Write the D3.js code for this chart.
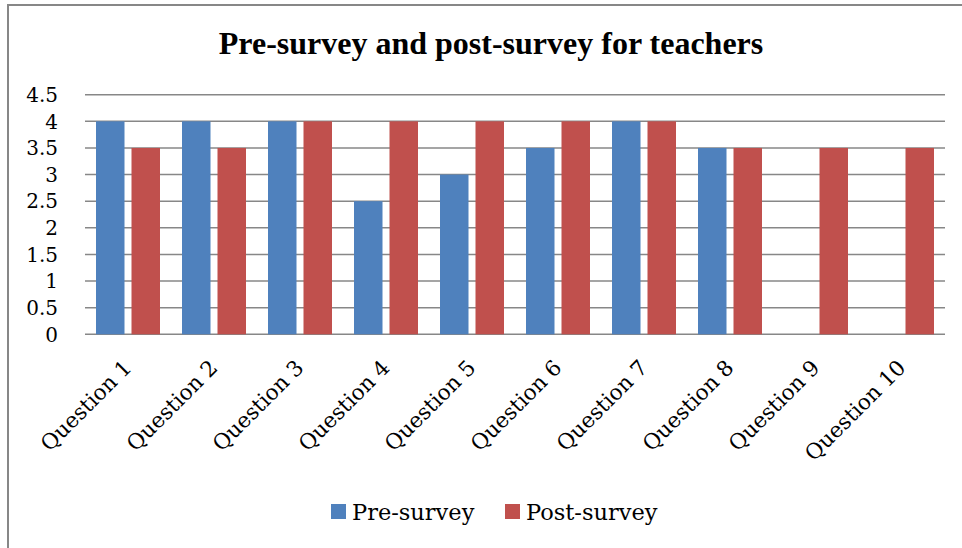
<!DOCTYPE html>
<html lang="en">

<head>
    <meta charset="UTF-8">
    <title>Pre-survey and post-survey for teachers</title>
    <style>
        body {
            margin: 0;
            background: white;
        }

        #svg {
            display: block;
            background: white;
        }
    </style>
    <script src="https://d3js.org/d3.v7.min.js"></script>
</head>

<body>
    <svg id="svg"></svg>
    <script>
        // chart data
        const questions = ['Question 1', 'Question 2', 'Question 3', 'Question 4', 'Question 5',
            'Question 6', 'Question 7', 'Question 8', 'Question 9', 'Question 10'];
        const preSurvey = [4, 4, 4, 2.5, 3, 3.5, 4, 3.5, null, null];
        const postSurvey = [3.5, 3.5, 4, 4, 4, 4, 4, 3.5, 3.5, 3.5];
        const yTicks = [0, 0.5, 1, 1.5, 2, 2.5, 3, 3.5, 4, 4.5];
        const seriesNames = ['Pre-survey', 'Post-survey'];
        const seriesColors = ['#4f81bd', '#c0504d'];

        const width = 962;
        const height = 548;
        const plot = { left: 85, right: 945, top: 94.7, bottom: 334.3 };

        const svg = d3.select('#svg')
            .attr('width', width)
            .attr('height', height);

        // outer frame (top and left edges visible)
        svg.append('line')
            .attr('x1', 8).attr('x2', width)
            .attr('y1', 5).attr('y2', 5)
            .attr('stroke', '#878787')
            .attr('stroke-width', 2);
        svg.append('line')
            .attr('x1', 8).attr('x2', 8)
            .attr('y1', 4).attr('y2', height)
            .attr('stroke', '#878787')
            .attr('stroke-width', 2);

        svg.append('text')
            .attr('x', 491)
            .attr('y', 54)
            .attr('text-anchor', 'middle')
            .attr('font-family', '"Liberation Serif", "Times New Roman", serif')
            .attr('font-weight', 'bold')
            .attr('font-size', 32)
            .text('Pre-survey and post-survey for teachers');

        const x = d3.scaleBand()
            .domain(questions)
            .range([plot.left, plot.right]);

        const y = d3.scaleLinear()
            .domain([0, 4.5])
            .range([plot.bottom, plot.top]);

        // gridlines
        svg.append('g')
            .selectAll('line')
            .data(yTicks)
            .join('line')
            .attr('x1', plot.left)
            .attr('x2', plot.right)
            .attr('y1', d => y(d))
            .attr('y2', d => y(d))
            .attr('stroke', '#878787')
            .attr('stroke-width', 1.6);

        // y tick labels
        svg.append('g')
            .selectAll('text')
            .data(yTicks)
            .join('text')
            .attr('x', 58)
            .attr('y', d => y(d))
            .attr('dy', '0.36em')
            .attr('text-anchor', 'end')
            .attr('font-family', '"DejaVu Serif", serif')
            .attr('font-size', 20)
            .attr('fill', '#000')
            .text(d => d);

        // bars
        const barW = 28.5;
        const gap = 7;
        const series = [preSurvey, postSurvey];
        series.forEach((vals, s) => {
            svg.append('g')
                .selectAll('rect')
                .data(vals.map((v, i) => ({ q: questions[i], v: v })).filter(d => d.v != null))
                .join('rect')
                .attr('x', d => x(d.q) + x.bandwidth() / 2 - barW - gap / 2 + s * (barW + gap))
                .attr('y', d => y(d.v))
                .attr('width', barW)
                .attr('height', d => y(0) - y(d.v))
                .attr('fill', seriesColors[s]);
        });

        // category labels, rotated
        svg.append('g')
            .selectAll('text')
            .data(questions)
            .join('text')
            .attr('transform', d => 'translate(' + (x(d) + x.bandwidth() / 2 + 5) + ',' + 369 + ') rotate(-45)')
            .attr('text-anchor', 'end')
            .attr('font-family', '"DejaVu Serif", serif')
            .attr('font-size', 21.5)
            .attr('fill', '#000')
            .text(d => d);

        // legend
        const legendX = [331, 505];
        const legend = svg.append('g')
            .selectAll('g')
            .data(seriesNames)
            .join('g')
            .attr('transform', (d, i) => 'translate(' + legendX[i] + ',504)');
        legend.append('rect')
            .attr('width', 15)
            .attr('height', 15)
            .attr('fill', (d, i) => seriesColors[i]);
        legend.append('text')
            .attr('x', 21)
            .attr('y', 16)
            .attr('font-family', '"DejaVu Serif", serif')
            .attr('font-size', 22.5)
            .attr('fill', '#000')
            .text(d => d);
    </script>
</body>

</html>
